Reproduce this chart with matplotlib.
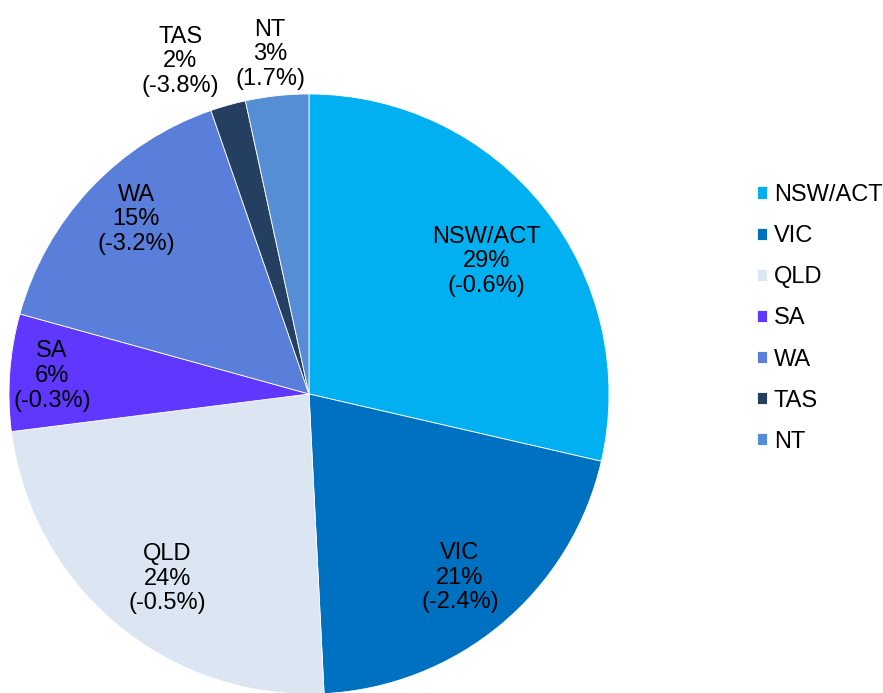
import numpy as np
import matplotlib
matplotlib.use("Agg")
import matplotlib.pyplot as plt

plt.rcParams['font.family'] = ['Liberation Sans', 'DejaVu Sans']

regions = ['NSW/ACT', 'VIC', 'QLD', 'SA', 'WA', 'TAS', 'NT']
shares = [28.6, 20.6, 23.8, 6.3, 15.4, 1.9, 3.4]
pct_labels = [29, 21, 24, 6, 15, 2, 3]
changes = [-0.6, -2.4, -0.5, -0.3, -3.2, -3.8, 1.7]
colors = ['#00B0F0', '#0070C0', '#DCE6F2', '#5F37FF', '#5A7FDB', '#243F60', '#558ED5']

# label distance from centre (fraction of radius) and small angle nudges
label_r = [0.74, 0.793, 0.777, 0.859, 0.82, 1.19, 1.14]
label_da = [-1.75, -0.56, 2.46, 0.14, -2.1, 5.5, 0.4]

fig = plt.figure(figsize=(8.83, 6.93), dpi=100)
ax = fig.add_axes([9 / 883, -1 / 693, 600 / 883, 600 / 693])

wedges, _ = ax.pie(shares, colors=colors, startangle=90, counterclock=False,
                   radius=1.0, wedgeprops=dict(edgecolor='white', linewidth=0.6))
ax.set_xlim(-1, 1)
ax.set_ylim(-1, 1)
ax.set_aspect('auto')
ax.axis('off')

for i, w in enumerate(wedges):
    mid = np.deg2rad((w.theta1 + w.theta2) / 2 + label_da[i])
    r = label_r[i]
    txt = f"{regions[i]}\n{pct_labels[i]}%\n({changes[i]:.1f}%)"
    ax.text(r * np.cos(mid), r * np.sin(mid), txt, ha='center', va='center',
            fontsize=17, linespacing=1.15, color='black', clip_on=False)

fig.legend(wedges, regions, loc='upper left', bbox_to_anchor=(757 / 883, 1 - 184 / 693),
           frameon=False, fontsize=17, handlelength=0.42, handleheight=0.42,
           handletextpad=0.3, labelspacing=0.81, borderaxespad=0, borderpad=0)

fig.savefig('out.png', dpi=100)
